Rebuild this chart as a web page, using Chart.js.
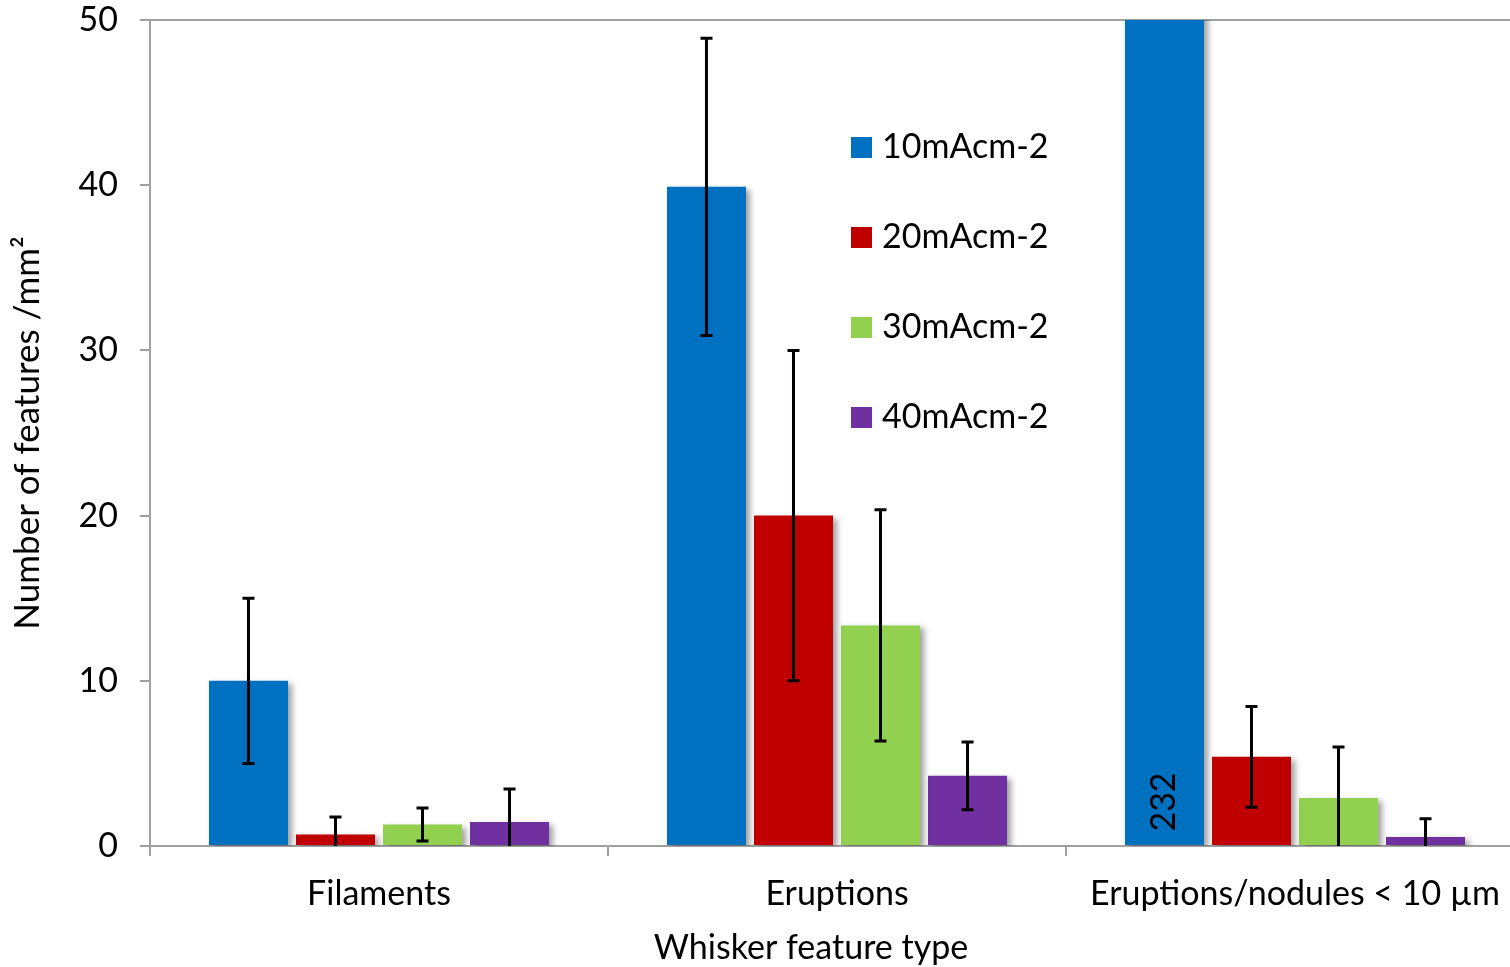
<!DOCTYPE html>
<html>
<head>
<meta charset="utf-8">
<script src="https://cdn.jsdelivr.net/npm/chart.js@4.4.1/dist/chart.umd.min.js"></script>
<style>
  html, body { margin: 0; padding: 0; background: #fff; overflow: hidden; }
  canvas { display: block; }
</style>
</head>
<body>
<canvas id="c" width="1530" height="967" style="width:1530px;height:967px"></canvas>
<script>
// Feature categories and current densities
const categories = ['Filaments', 'Eruptions', 'Eruptions/nodules < 10 \u00b5m'];
const seriesNames = ['10mAcm-2', '20mAcm-2', '30mAcm-2', '40mAcm-2'];
const seriesColors = ['#0070C0', '#C00000', '#92D050', '#7030A0'];

// Mean number of features per mm² for each current density
const values10 = [10, 39.9, 232];
const values20 = [0.7, 20, 5.4];
const values30 = [1.3, 13.35, 2.9];
const values40 = [1.45, 4.25, 0.55];

// Standard deviations (null = no bar drawn)
const errors10 = [5, 9, null];
const errors20 = [1.05, 10, 3.05];
const errors30 = [1.0, 7.0, 3.1];
const errors40 = [2.0, 2.05, 1.1];

const yTicks = [0, 10, 20, 30, 40, 50];
const xTitle = 'Whisker feature type';
const yTitle = 'Number of features /mm\u00b2';

const FONT = 'Lato, "Open Sans", sans-serif';
const FS = 34;
const GREY = '#a0a0a0';

const allValues = [values10, values20, values30, values40];
const allErrors = [errors10, errors20, errors30, errors40];

const shadowPlugin = {
  id: 'barShadow',
  beforeDatasetsDraw(chart) {
    const ctx = chart.ctx;
    ctx.save();
    ctx.shadowColor = 'rgba(0,0,0,0.38)';
    ctx.shadowBlur = 6;
    ctx.shadowOffsetX = 4;
    ctx.shadowOffsetY = 3;
  },
  afterDatasetsDraw(chart) {
    chart.ctx.restore();
  }
};

const errorBarPlugin = {
  id: 'errorBars',
  afterDatasetsDraw(chart) {
    const ctx = chart.ctx;
    const y = chart.scales.y;
    const area = chart.chartArea;
    ctx.save();
    ctx.strokeStyle = '#000';
    ctx.lineWidth = 3;
    chart.data.datasets.forEach((ds, i) => {
      const meta = chart.getDatasetMeta(i);
      meta.data.forEach((bar, j) => {
        const err = ds.errors[j];
        const v = ds.data[j];
        if (err == null) return;
        const x = bar.x;
        let top = y.getPixelForValue(v + err);
        let bot = y.getPixelForValue(v - err);
        const capTop = top >= area.top;
        const capBot = bot <= area.bottom;
        top = Math.max(top, area.top);
        bot = Math.min(bot, area.bottom);
        ctx.beginPath();
        ctx.moveTo(x, top);
        ctx.lineTo(x, bot);
        if (capTop) { ctx.moveTo(x - 6, top); ctx.lineTo(x + 6, top); }
        if (capBot) { ctx.moveTo(x - 6, bot); ctx.lineTo(x + 6, bot); }
        ctx.stroke();
      });
    });
    // value label on the bar that runs off the scale
    const meta0 = chart.getDatasetMeta(0);
    const ds0 = chart.data.datasets[0];
    ds0.data.forEach((v, j) => {
      if (v > y.max) {
        const bar = meta0.data[j];
        ctx.save();
        ctx.translate(bar.x, area.bottom - 44);
        ctx.rotate(-Math.PI / 2);
        ctx.fillStyle = '#000';
        ctx.font = FS + 'px ' + FONT;
        ctx.textAlign = 'center';
        ctx.textBaseline = 'middle';
        ctx.fillText(String(v), 0, 0);
        ctx.restore();
      }
    });
    ctx.restore();
  }
};

// Legend inside the plot, and the axis titles
const annotatePlugin = {
  id: 'annotate',
  afterDraw(chart) {
    const ctx = chart.ctx;
    const area = chart.chartArea;
    ctx.save();
    ctx.font = FS + 'px ' + FONT;
    ctx.textBaseline = 'middle';
    ctx.textAlign = 'left';
    chart.data.datasets.forEach((ds, i) => {
      const cy = 147 + i * 90;
      ctx.fillStyle = ds.backgroundColor;
      ctx.fillRect(851, cy - 10, 21, 21);
      ctx.fillStyle = '#000';
      ctx.fillText(ds.label, 882, cy);
    });
    ctx.textAlign = 'center';
    ctx.fillText(xTitle, 811, 948);
    ctx.font = '35px ' + FONT;
    ctx.translate(28, (area.top + area.bottom) / 2);
    ctx.rotate(-Math.PI / 2);
    ctx.fillText(yTitle, 0, 0);
    ctx.restore();
  }
};

new Chart(document.getElementById('c'), {
  type: 'bar',
  data: {
    labels: categories,
    datasets: seriesNames.map((name, i) => ({
      label: name,
      data: allValues[i],
      errors: allErrors[i],
      backgroundColor: seriesColors[i],
      borderWidth: 0,
      categoryPercentage: 0.76,
      barPercentage: 0.908
    }))
  },
  options: {
    responsive: false,
    animation: false,
    devicePixelRatio: 1,
    layout: { padding: { top: 20, right: 6, left: 0, bottom: 0 } },
    plugins: {
      legend: { display: false },
      tooltip: { enabled: false }
    },
    scales: {
      x: {
        afterFit(scale) { scale.height = 121; scale.paddingLeft = 0; scale.paddingRight = 0; },
        grid: {
          offset: true,
          color: 'transparent',
          tickColor: GREY,
          tickLength: 10,
          lineWidth: 2
        },
        border: { color: GREY, width: 2 },
        ticks: { color: '#000', font: { family: FONT, size: FS }, padding: 18, maxRotation: 0 }
      },
      y: {
        min: 0,
        max: 50,
        afterFit(scale) { scale.width = 150; scale.paddingTop = 0; scale.paddingBottom = 0; },
        afterBuildTicks(scale) { scale.ticks = yTicks.map(v => ({ value: v })); },
        grid: {
          color: (c) => (c.tick && c.tick.value === 50 ? GREY : 'transparent'),
          tickColor: GREY,
          tickLength: 10,
          lineWidth: 2
        },
        border: { color: GREY, width: 2 },
        ticks: { color: '#000', font: { family: FONT, size: FS }, padding: 22 }
      }
    }
  },
  plugins: [shadowPlugin, errorBarPlugin, annotatePlugin]
});
</script>
</body>
</html>
